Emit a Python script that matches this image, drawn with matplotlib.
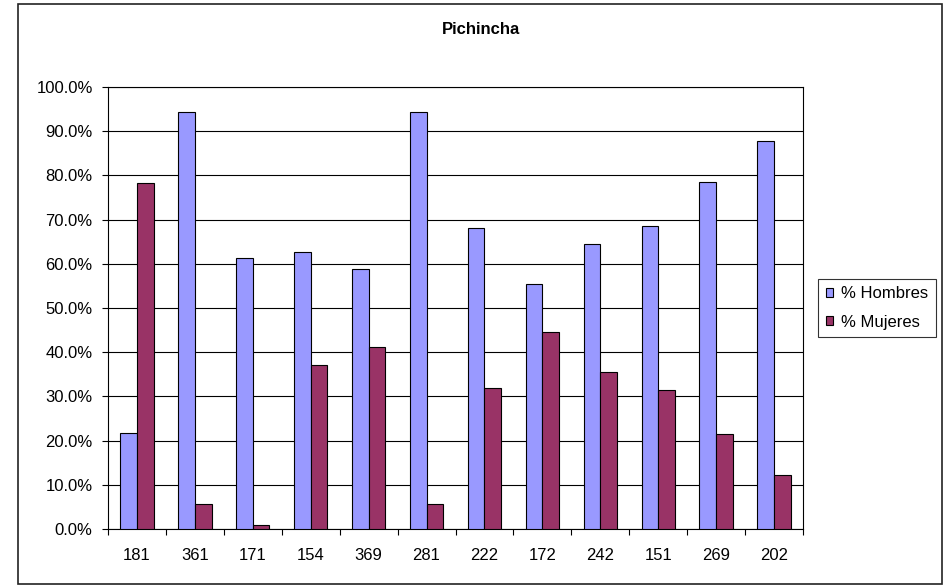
import matplotlib
matplotlib.use("Agg")
import matplotlib.pyplot as plt
from matplotlib.ticker import FuncFormatter, MultipleLocator, FixedLocator
import numpy as np

categories = ["181", "361", "171", "154", "369", "281", "222", "172", "242", "151", "269", "202"]
hombres = [21.8, 94.3, 61.2, 62.7, 58.9, 94.3, 68.1, 55.5, 64.4, 68.5, 78.5, 87.7]
mujeres = [78.2, 5.7, 0.9, 37.2, 41.1, 5.7, 31.8, 44.5, 35.6, 31.5, 21.4, 12.3]
series_names = ["% Hombres", "% Mujeres"]

plt.rcParams['font.family'] = ['Liberation Sans', 'DejaVu Sans']

W, H = 946, 587
fig = plt.figure(figsize=(W / 100, H / 100), dpi=100)

# outer chart border
fig.patches.append(plt.Rectangle((18 / W, 1 - 584 / H), (942 - 18) / W, (584 - 4) / H,
                                 transform=fig.transFigure, fill=False,
                                 edgecolor='#222222', linewidth=1.2))

left, right, top, bottom = 108, 803, 87, 529
ax = fig.add_axes([left / W, 1 - bottom / H, (right - left) / W, (bottom - top) / H])

x = np.arange(len(categories))
bw = 0.288
ax.bar(x - bw / 2, hombres, width=bw, color='#9999FF', edgecolor='black', linewidth=0.8,
       label=series_names[0], zorder=3)
ax.bar(x + bw / 2, mujeres, width=bw, color='#993366', edgecolor='black', linewidth=0.8,
       label=series_names[1], zorder=3)

ax.set_xlim(-0.5, len(categories) - 0.5)
ax.set_ylim(0, 100)
ax.yaxis.set_major_locator(MultipleLocator(10))
ax.yaxis.set_major_formatter(FuncFormatter(lambda v, p: f"{v:.1f}%"))
ax.yaxis.grid(True, color='black', linewidth=0.8, zorder=0)
ax.set_axisbelow(True)

ax.set_xticks(x)
ax.set_xticklabels(categories)
ax.xaxis.set_minor_locator(FixedLocator(np.arange(-0.5, len(categories), 1.0)))
ax.tick_params(axis='x', which='major', length=0, pad=13.5, labelsize=12)
ax.tick_params(axis='x', which='minor', length=4, direction='out', width=0.8)
ax.tick_params(axis='y', length=4, direction='out', width=0.8, labelsize=12, pad=7)

for s in ax.spines.values():
    s.set_linewidth(0.8)
    s.set_color('black')

fig.text(481 / W, 1 - 29.5 / H, "Pichincha", ha='center', va='center',
         fontsize=12, fontweight='bold')

leg = fig.legend(loc='upper left', bbox_to_anchor=(818 / W, 1 - 279 / H),
                 frameon=True, fancybox=False, edgecolor='black', fontsize=12,
                 handlelength=0.45, handleheight=0.45, handletextpad=0.5,
                 borderpad=0.45, labelspacing=0.8, borderaxespad=0)
leg.get_frame().set_linewidth(0.8)

fig.savefig("out.png", dpi=100)
